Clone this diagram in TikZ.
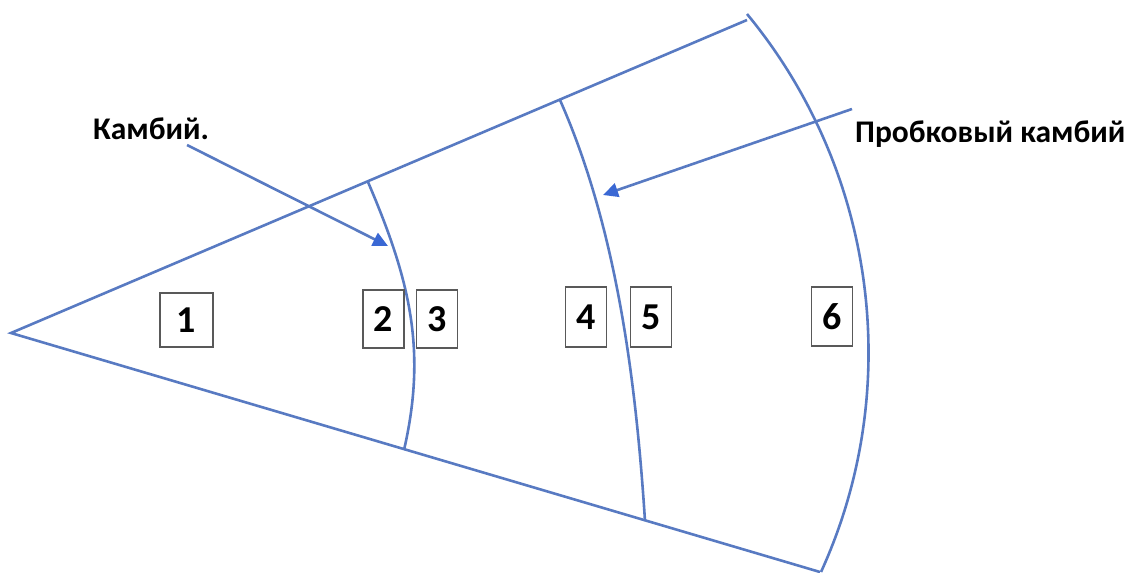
\documentclass[tikz,border=0pt]{standalone}
\usepackage{fontspec}
\setmainfont{Carlito}
\usetikzlibrary{arrows.meta}
\definecolor{linecol}{RGB}{88,122,194}
\definecolor{headcol}{RGB}{58,104,212}
\begin{document}
\begin{tikzpicture}[x=1pt,y=-1pt,
  ln/.style={draw=linecol,line width=2.6pt},
  arr/.style={draw=linecol,line width=2.6pt,-{Triangle[length=15pt,width=14pt,color=headcol]}},
  numbox/.style={draw=black!65,line width=1.1pt,inner sep=0pt,minimum width=41pt,minimum height=58pt,font=\fontsize{38}{42}\selectfont\bfseries},
  lbl/.style={inner sep=0pt,font=\fontsize{31.5}{36}\selectfont\bfseries}]
\useasboundingbox (0,0) rectangle (1130,573);
% sector outline
\coordinate (O) at (11,333);
\coordinate (U) at (747,20);
\coordinate (L) at (820,572);
\draw[ln] (U) -- (O) -- (L);
% arcs
\coordinate (a1t) at (368,182);
\coordinate (a1b) at (404,450);
\draw[ln] (a1t) .. controls (410,280) and (427,350) .. (a1b);
\coordinate (a2t) at (560,100);
\coordinate (a2b) at (645,521);
\draw[ln] (a2t) .. controls (617,229) and (636,382) .. (a2b);
\coordinate (a3t) at (747,14);
\coordinate (a3b) at (821,572);
\draw[ln] (a3t) .. controls (876,170) and (905,388) .. (a3b);
% number boxes
\node[numbox,minimum width=53pt,minimum height=54pt] (n1) at (186.5,320) {1};
\node[numbox] (n2) at (383.5,319) {2};
\node[numbox] (n3) at (437,319) {3};
\node[numbox,minimum height=60pt] (n4) at (586,317) {4};
\node[numbox,minimum height=60pt] (n5) at (651,317) {5};
\node[numbox,minimum height=59pt] (n6) at (832,316.5) {6};
% labels
\node[lbl,anchor=base west] (k1) at (93,139) {Камбий.};
\node[lbl,anchor=base west] (k2) at (855,142) {Пробковый камбий};
% arrows
\coordinate (s1) at (187,145);
\coordinate (t1) at (388,246);
\coordinate (s2) at (852,109);
\coordinate (t2) at (603,195);
\draw[arr] (s1) -- (t1);
\draw[arr] (s2) -- (t2);
\end{tikzpicture}
\end{document}
